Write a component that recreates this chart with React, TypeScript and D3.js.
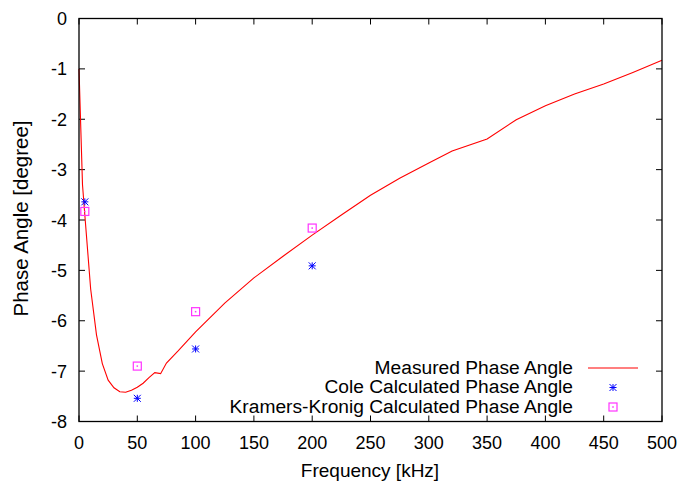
import React from "react";
import * as d3 from "d3";

const measuredFreq = [0, 3, 5, 10, 15, 20, 25, 30, 35, 40, 45, 50, 55, 60, 65, 70, 75, 85, 100, 125, 150, 175, 200, 225, 250, 275, 300, 320, 350, 375, 400, 425, 450, 475, 500];
const measuredPhase = [-1.0, -3.3, -3.9, -5.37, -6.28, -6.85, -7.18, -7.33, -7.41, -7.42, -7.38, -7.32, -7.24, -7.13, -7.03, -7.05, -6.84, -6.6, -6.22, -5.65, -5.15, -4.72, -4.3, -3.9, -3.51, -3.17, -2.87, -2.63, -2.39, -2.01, -1.73, -1.5, -1.3, -1.07, -0.83];

const coleFreq = [5, 50, 100, 200];
const colePhase = [-3.64, -7.54, -6.56, -4.91];

const kkFreq = [5, 50, 100, 200];
const kkPhase = [-3.83, -6.9, -5.82, -4.16];

const xTicks = [0, 50, 100, 150, 200, 250, 300, 350, 400, 450, 500];
const yTicks = [0, -1, -2, -3, -4, -5, -6, -7, -8];

const legendLabels = ["Measured Phase Angle", "Cole Calculated Phase Angle", "Kramers-Kronig Calculated Phase Angle"];

const W = 681, H = 482;
const L = 79, R = 662, T = 18.5, B = 421.5;
const FONT = "'Liberation Sans', Arial, sans-serif";

function Star({ x, y, s = 3.5, c = "#0000ff" }: { x: number; y: number; s?: number; c?: string }) {
  return (
    <g stroke={c} strokeWidth={1}>
      <line x1={x - s} y1={y} x2={x + s} y2={y} />
      <line x1={x} y1={y - s} x2={x} y2={y + s} />
      <line x1={x - s} y1={y - s} x2={x + s} y2={y + s} />
      <line x1={x - s} y1={y + s} x2={x + s} y2={y - s} />
    </g>
  );
}

function BoxDot({ x, y, s = 4, c = "#ff33ff" }: { x: number; y: number; s?: number; c?: string }) {
  return (
    <g>
      <rect x={x - s} y={y - s} width={2 * s} height={2 * s} fill="none" stroke={c} strokeWidth={1.2} />
      <rect x={x - 0.75} y={y - 0.75} width={1.5} height={1.5} fill={c} />
    </g>
  );
}

export default function App() {
  const x = d3.scaleLinear().domain([0, 500]).range([L, R]);
  const y = d3.scaleLinear().domain([-8, 0]).range([B, T]);
  const line = d3.line<number>().x((_, i) => x(measuredFreq[i])).y((d) => y(d));
  const tl = 6;
  return (
    <div style={{ position: "absolute", left: 0, top: 0 }}>
      <svg width={W} height={H} style={{ display: "block", background: "#fff" }} fontFamily={FONT}>
        <rect x={0} y={0} width={W} height={H} fill="#fff" />
        {xTicks.map((t) => (
          <g key={"xt" + t} stroke="#000" strokeWidth={1}>
            <line x1={x(t)} y1={B} x2={x(t)} y2={B - tl} />
            <line x1={x(t)} y1={T} x2={x(t)} y2={T + tl} />
          </g>
        ))}
        {yTicks.map((t) => (
          <g key={"yt" + t} stroke="#000" strokeWidth={1}>
            <line x1={L} y1={y(t)} x2={L + tl} y2={y(t)} />
            <line x1={R} y1={y(t)} x2={R - tl} y2={y(t)} />
          </g>
        ))}
        {xTicks.map((t) => (
          <text key={"xl" + t} x={x(t)} y={448.5} fontSize={18} textAnchor="middle" fill="#000">{t}</text>
        ))}
        {yTicks.map((t) => (
          <text key={"yl" + t} x={67} y={y(t) + 6.5} fontSize={18} textAnchor="end" fill="#000">{t}</text>
        ))}
        <text x={370} y={476.5} fontSize={19} textAnchor="middle" fill="#000">Frequency [kHz]</text>
        <text transform={`translate(28,218.5) rotate(-90)`} fontSize={20.5} textAnchor="middle" fill="#000">Phase Angle [degree]</text>

        <path d={line(measuredPhase) || ""} fill="none" stroke="#ff0000" strokeWidth={1.1} />
        {coleFreq.map((f, i) => <Star key={"c" + i} x={x(f)} y={y(colePhase[i])} />)}
        {kkFreq.map((f, i) => <BoxDot key={"k" + i} x={x(f)} y={y(kkPhase[i])} />)}

        {legendLabels.map((lab, i) => (
          <text key={"lg" + i} x={573} y={373.5 + i * 19.5} fontSize={19.2} textAnchor="end" fill="#000">{lab}</text>
        ))}
        <line x1={588} y1={368} x2={638} y2={368} stroke="#ff0000" strokeWidth={1.1} />
        <Star x={613} y={387.5} />
        <BoxDot x={613} y={407} />

        <rect x={L} y={T} width={R - L} height={B - T} fill="none" stroke="#000" strokeWidth={1.3} />
      </svg>
    </div>
  );
}
